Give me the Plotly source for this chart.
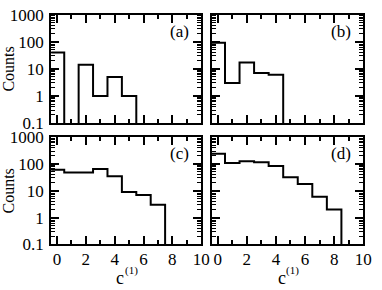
import plotly.graph_objects as go

# ---- data (bins centred on integers c = 0,1,2,..., width 1) ----
bin_centers_a = [0, 1, 2, 3, 4, 5]
counts_a = [40, 0, 14, 1, 5, 1]

bin_centers_b = [0, 1, 2, 3, 4]
counts_b = [92, 3, 17, 7, 6]

bin_centers_c = [0, 1, 2, 3, 4, 5, 6, 7]
counts_c = [60, 48, 48, 65, 35, 9, 7, 3]

bin_centers_d = [0, 1, 2, 3, 4, 5, 6, 7, 8]
counts_d = [240, 107, 125, 115, 83, 32, 18, 6, 2]

panel_labels = ["(a)", "(b)", "(c)", "(d)"]
ytick_vals = [0.1, 1, 10, 100, 1000]
ytick_text = ["0.1", "1", "10", "100", "1000"]
xtick_vals = [0, 2, 4, 6, 8, 10]
xtick_text = ["0", "2", "4", "6", "8", "10"]

W, H = 382, 290
FONT = "Liberation Serif, Times New Roman, serif"
FLOOR = 1e-3  # empty bins drawn below the axis floor


def fx(px):
    return px / W


def fy(py):
    return 1 - py / H


def stairs(centers, counts):
    edges = [c - 0.5 for c in centers] + [centers[-1] + 0.5]
    ys = [c if c > 0 else FLOOR for c in counts]
    return edges, ys + [FLOOR]


fig = go.Figure()

# pixel geometry of the panels
cols = [(52.5, 206.0), (217.0, 372.0)]
rows = [(6.0, 122.0), (137.0, 252.0)]

data = [(bin_centers_a, counts_a), (bin_centers_b, counts_b),
        (bin_centers_c, counts_c), (bin_centers_d, counts_d)]

for i, (cent, cnt) in enumerate(data):
    r, c = divmod(i, 2)
    n = i + 1
    xa = "x" if n == 1 else f"x{n}"
    ya = "y" if n == 1 else f"y{n}"
    xs, ys = stairs(cent, cnt)
    fig.add_trace(go.Scatter(x=xs, y=ys, mode="lines", line_shape="hv",
                             line=dict(color="black", width=2),
                             xaxis=xa, yaxis=ya, showlegend=False,
                             hoverinfo="skip"))
    xkey = "xaxis" if n == 1 else f"xaxis{n}"
    ykey = "yaxis" if n == 1 else f"yaxis{n}"
    x0, x1 = cols[c]
    t, b = rows[r]
    fig.layout[xkey] = dict(
        domain=[fx(x0), fx(x1)], anchor=ya, range=[-0.4, 10],
        tickvals=xtick_vals, ticktext=xtick_text,
        showticklabels=(r == 1), ticks="inside", ticklen=8, tickwidth=1.5,
        tickcolor="black", showline=True, linecolor="black", linewidth=2,
        mirror="ticks", showgrid=False, zeroline=False,
        ticklabelstandoff=-2,
        tickfont=dict(family=FONT, size=17, color="black"),
        minor=dict(dtick=1, tick0=0, ticks="inside", ticklen=4,
                   tickwidth=1.5, tickcolor="black", showgrid=False),
    )
    fig.layout[ykey] = dict(
        domain=[fy(b), fy(t)], anchor=xa, type="log", range=[-1, 3],
        tickvals=ytick_vals, ticktext=ytick_text,
        showticklabels=(c == 0), ticks="inside", ticklen=8, tickwidth=1.5,
        tickcolor="black", showline=True, linecolor="black", linewidth=2,
        mirror="ticks", showgrid=False, zeroline=False,
        ticklabelstandoff=2,
        tickfont=dict(family=FONT, size=17, color="black"),
        minor=dict(dtick="D1", ticks="inside", ticklen=4, tickwidth=1,
                   tickcolor="black", showgrid=False),
    )
    # panel label
    fig.add_annotation(text=panel_labels[i], xref="paper", yref="paper",
                       x=fx(x1 - 10), y=fy(t + 18), xanchor="right",
                       yanchor="middle", showarrow=False,
                       font=dict(family=FONT, size=17, color="black"))

# axis titles
for t, b in rows:
    fig.add_annotation(text="Counts", xref="paper", yref="paper",
                       x=fx(9), y=fy((t + b) / 2), textangle=-90,
                       xanchor="center", yanchor="middle", showarrow=False,
                       font=dict(family=FONT, size=16, color="black"))
for x0, x1 in cols:
    xc = (x0 + x1) / 2
    fig.add_annotation(text="c", xref="paper", yref="paper",
                       x=fx(xc - 6), y=fy(288), xanchor="center",
                       yanchor="middle", showarrow=False,
                       font=dict(family=FONT, size=18, color="black"))
    fig.add_annotation(text="(1)", xref="paper", yref="paper",
                       x=fx(xc + 5), y=fy(280), xanchor="center",
                       yanchor="middle", showarrow=False,
                       font=dict(family=FONT, size=11, color="black"))

fig.update_layout(width=W, height=H, margin=dict(l=0, r=0, t=0, b=0),
                  plot_bgcolor="white", paper_bgcolor="white",
                  showlegend=False)

fig.write_html("out.html",
               config={"displayModeBar": False},
               post_script="document.body.style.margin='0';")
